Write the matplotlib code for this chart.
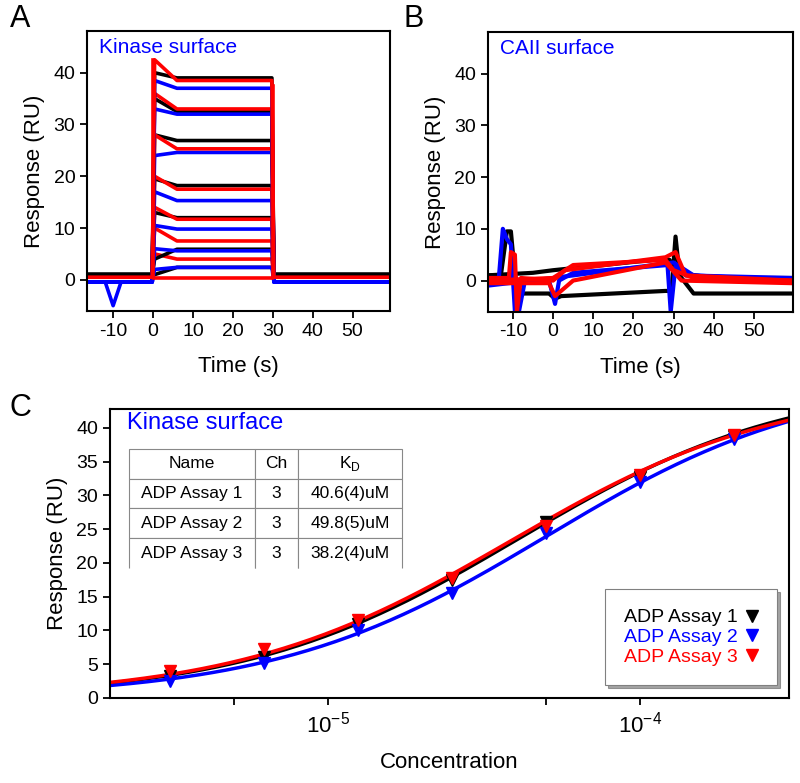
import numpy as np
import matplotlib
matplotlib.use("Agg")
import matplotlib.pyplot as plt
from matplotlib.ticker import FixedLocator, FuncFormatter

plt.rcParams['font.family'] = ['Liberation Sans', 'DejaVu Sans']
plt.rcParams['axes.unicode_minus'] = False

# Concentrations (M) and steady-state responses (RU)
conc = [3.125e-6, 6.25e-6, 12.5e-6, 25e-6, 50e-6, 100e-6, 200e-6]
resp_1 = [3.3, 6.0, 11.0, 17.5, 26.0, 32.8, 38.8]
resp_2 = [2.5, 5.2, 10.0, 15.5, 24.5, 32.0, 38.3]
resp_3 = [4.0, 7.3, 11.5, 17.8, 25.5, 33.0, 39.0]

# Fit results (table)
names = ['ADP Assay 1', 'ADP Assay 2', 'ADP Assay 3']
channels = ['3', '3', '3']
kd_text = ['40.6(4)uM', '49.8(5)uM', '38.2(4)uM']
kd = [40.6e-6, 49.8e-6, 38.2e-6]
rmax = [47.1, 47.8, 46.4]

# Panel A: sensorgram levels on the kinase surface
plateau_1 = [2.4, 5.9, 12.0, 18.2, 26.9, 32.5, 39.0]
plateau_2 = [2.4, 5.6, 9.8, 15.3, 24.6, 32.0, 37.0]
plateau_3 = [4.0, 7.5, 11.7, 17.5, 25.3, 33.0, 38.5]
start_1 = [1.0, 4.0, 13.0, 19.5, 28.0, 35.0, 40.0]
start_2 = [2.0, 6.0, 10.5, 17.0, 24.0, 33.0, 38.5]
start_3 = [5.0, 10.0, 14.0, 20.0, 28.0, 36.0, 42.5]
base_1, base_2, base_3 = 1.0, -0.4, 0.5
trace_t = [-16.5, -12, -10, -8, -0.2, 0.4, 6, 29.8, 30.3, 59.5]

# Panel B: reference (CAII) surface traces, (time, response)
b_black = [
    ([-16.5, -13, -11.5, -10.5, -9.5, -8, -1, 0.5, 2, 28, 29.5, 30.5, 31.5, 35, 59.5],
     [1, 1, 9.5, 9.5, 1, -2.5, -2.5, -3.5, -3, -2, -2, 8.5, 1, -2.5, -2.5]),
    ([-16.5, -5, 0, 25, 29, 31, 40, 59.5],
     [1, 1.5, 2, 4, 4, 1.5, 0.5, 0.5]),
]
b_blue = [
    ([-16.5, -13.5, -12.5, -11.5, -10.5, -9.5, -8.5, -7, -1, 0.5, 1.5, 5, 28.5, 29.3, 30.5, 33, 59.5],
     [0.5, 0.5, 10, 8, 7, -6, -6, 0, 0, -4.5, 0, 1.5, 3, -6, 3, 1, 0.5]),
    ([-16.5, 0, 25, 30, 35, 59.5],
     [-1, 0.5, 3, 3.5, 1, 0]),
]
b_red = [
    ([-16.5, -11, -10.5, -9.5, -9, -8, 0, 3, 28, 30.5, 33, 59.5],
     [0.5, 0.5, 5.5, 5, -6, 0.5, 0, 2, 4.5, 5.5, 1, 0]),
    ([-16.5, 0, 5, 28, 30, 35, 59.5],
     [0, 0.5, 3, 4, 2, 0.5, 0]),
    ([-16.5, -1, 0.5, 5, 28, 32, 59.5],
     [-0.5, -0.5, -3, 0, 3.5, 0, -0.5]),
]

colors = ['black', 'blue', 'red']

fig = plt.figure(figsize=(8, 7.83), dpi=100)
axA = fig.add_axes([0.109, 0.603, 0.379, 0.357])
axB = fig.add_axes([0.610, 0.602, 0.381, 0.357])
axC = fig.add_axes([0.1375, 0.1086, 0.849, 0.369])


def style_axis(ax):
    for s in ax.spines.values():
        s.set_linewidth(1.5)
    ax.tick_params(which='both', direction='out', width=1.3, labelsize=14,
                   top=False, right=False)
    ax.tick_params(which='major', length=5)
    ax.tick_params(which='minor', length=5)


# ---- Panel A ----
levels = [(plateau_1, start_1, base_1), (plateau_2, start_2, base_2),
          (plateau_3, start_3, base_3)]
for i in range(len(conc)):
    for (pl, st, b), c in zip(levels, colors):
        dip = -5 if (c == 'blue' and i == 0) else b
        y = [b, b, dip, b, b, st[i], pl[i], pl[i], b, b]
        axA.plot(trace_t, y, color=c, lw=2.6)
# blank injection trace
axA.plot([0, 0, 30, 30], [start_3[-1], 0.3, 0.3, 37.5], color='red', lw=2.6)

axA.set_xlim(-16.5, 59.5)
axA.set_ylim(-6, 48)
axA.set_xticks([-10, 0, 10, 20, 30, 40, 50])
axA.set_yticks([0, 10, 20, 30, 40])
axA.set_xlabel('Time (s)', fontsize=16, labelpad=12)
axA.set_ylabel('Response (RU)', fontsize=16, labelpad=6)
axA.text(0.04, 0.975, 'Kinase surface', color='blue', fontsize=15,
         transform=axA.transAxes, va='top')
style_axis(axA)

# ---- Panel B ----
for traces, c in zip([b_black, b_blue, b_red], colors):
    for t, y in traces:
        axB.plot(t, y, color=c, lw=3)
axB.set_xlim(-16.2, 59.7)
axB.set_ylim(-6, 48)
axB.set_xticks([-10, 0, 10, 20, 30, 40, 50])
axB.set_yticks([0, 10, 20, 30, 40])
axB.set_xlabel('Time (s)', fontsize=16, labelpad=12)
axB.set_ylabel('Response (RU)', fontsize=16, labelpad=6)
axB.text(0.04, 0.975, 'CAII surface', color='blue', fontsize=15,
         transform=axB.transAxes, va='top')
style_axis(axB)

# ---- Panel C ----
xfit = np.logspace(np.log10(2e-6), np.log10(3e-4), 200)
for k, r, c in zip(kd, rmax, colors):
    axC.plot(xfit, r * xfit / (k + xfit), color=c, lw=2.5)
for resp, name, c in zip([resp_1, resp_2, resp_3], names, colors):
    axC.plot(conc, resp, linestyle='none', marker='v', ms=9, color=c, label=name)

axC.set_xscale('log')
axC.set_xlim(2e-6, 3e-4)
axC.set_ylim(0, 42.8)
axC.set_yticks(range(0, 41, 5))
axC.xaxis.set_major_locator(FixedLocator([1e-5, 1e-4]))
axC.xaxis.set_minor_locator(FixedLocator([5e-6, 5e-5]))
axC.xaxis.set_major_formatter(FuncFormatter(
    lambda v, p: r'10$^{\mathregular{ %d}}$' % round(np.log10(v))))
axC.xaxis.set_minor_formatter(FuncFormatter(lambda v, p: ''))
axC.set_xlabel('Concentration', fontsize=16, labelpad=10)
axC.set_ylabel('Response (RU)', fontsize=16, labelpad=6)
axC.text(0.025, 0.99, 'Kinase surface', color='blue', fontsize=17,
         transform=axC.transAxes, va='top')
style_axis(axC)
axC.tick_params(axis='x', which='major', pad=5, labelsize=16)

leg = axC.legend(loc='lower right', bbox_to_anchor=(0.982, 0.045),
                 borderaxespad=0, markerfirst=False, handlelength=0.6,
                 handletextpad=0.4, fontsize=14, labelcolor='markerfacecolor',
                 shadow=True, fancybox=False, edgecolor='gray', borderpad=1.0,
                 labelspacing=0.1)
leg.get_frame().set_linewidth(0.8)

# fit table
tab = axC.table(cellText=[[n, ch, kt] for n, ch, kt in zip(names, channels, kd_text)],
                colLabels=['Name', 'Ch', r'K$_\mathregular{D}$'],
                cellLoc='center', colWidths=[0.46, 0.16, 0.38],
                bbox=[0.028, 0.45, 0.402, 0.412])
tab.auto_set_font_size(False)
tab.set_fontsize(12.5)
for (r, c), cell in tab.get_celld().items():
    cell.set_edgecolor('#888888')
    cell.set_linewidth(0.8)
    if r == 3:
        cell.visible_edges = 'LRT'

# panel letters
fig.text(0.012, 0.995, 'A', fontsize=22, va='top')
fig.text(0.505, 0.995, 'B', fontsize=22, va='top')
fig.text(0.012, 0.498, 'C', fontsize=22, va='top')

plt.savefig('out.png', dpi=100)
plt.close()
